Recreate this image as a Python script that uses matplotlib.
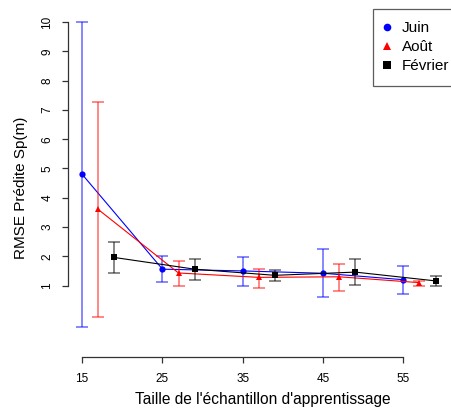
import numpy as np
import matplotlib
matplotlib.use("Agg")
import matplotlib.pyplot as plt
from matplotlib.lines import Line2D

plt.rcParams['font.family'] = ['Liberation Sans', 'DejaVu Sans']

# sample sizes, shifted per month like in the original figure
taille = [15, 25, 35, 45, 55]
decalage = {'Juin': 0, 'Août': 2, 'Février': 4}

# RMSE mean and error bar limits
juin_moy = [4.80, 1.56, 1.50, 1.42, 1.20]
juin_haut = [10.0, 2.02, 1.98, 2.24, 1.68]
juin_bas = [-0.43, 1.11, 1.00, 0.60, 0.71]

aout_moy = [3.60, 1.43, 1.28, 1.30, 1.10]
aout_haut = [7.26, 1.85, 1.57, 1.74, 1.16]
aout_bas = [-0.06, 0.97, 0.92, 0.80, 0.98]

fev_moy = [1.96, 1.56, 1.35, 1.46, 1.16]
fev_haut = [2.50, 1.92, 1.52, 1.90, 1.32]
fev_bas = [1.42, 1.20, 1.15, 1.03, 1.00]

series = [
    ('Juin', juin_moy, juin_haut, juin_bas, '#0000ff', 'o'),
    ('Août', aout_moy, aout_haut, aout_bas, '#ff0000', '^'),
    ('Février', fev_moy, fev_haut, fev_bas, '#000000', 's'),
]

fig = plt.figure(figsize=(4.51, 4.12), dpi=100)
ax = fig.add_axes([0.1508, 0.1335, 0.8462, 0.8413])

handles = []
for nom, moy, haut, bas, col, mk in series:
    x = np.array(taille) + decalage[nom]
    moy = np.array(moy)
    err = [moy - np.array(bas), np.array(haut) - moy]
    ax.errorbar(x, moy, yerr=err, fmt='none', ecolor=col, alpha=0.55,
                elinewidth=1.2, capsize=4, capthick=1.2)
    ax.plot(x, moy, color=col, lw=0.8, marker=mk, markersize=4.5,
            markeredgewidth=0)
    handles.append(Line2D([], [], color=col, marker=mk, ls='none',
                          markersize=5.5, markeredgewidth=0, label=nom))

ax.set_xlim(13.24, 60.76)
ax.set_ylim(-1.44, 10.4)
ax.set_xticks([15, 25, 35, 45, 55])
ax.set_yticks(range(1, 11))
for s in ['top', 'right']:
    ax.spines[s].set_visible(False)
ax.spines['left'].set_bounds(1, 10)
ax.spines['bottom'].set_bounds(15, 55)
for s in ['left', 'bottom']:
    ax.spines[s].set_color('#333333')
    ax.spines[s].set_linewidth(0.9)
ax.tick_params(axis='both', length=4.5, width=0.9, color='#333333', labelsize=8.5)
ax.tick_params(axis='y', pad=6)
ax.tick_params(axis='x', pad=7)
for lab in ax.get_yticklabels():
    lab.set_rotation(90)
    lab.set_va('center')

fig.text(0.582, 0.030, "Taille de l'échantillon d'apprentissage",
         ha='center', va='center', fontsize=11.2)
fig.text(0.047, 0.543, "RMSE Prédite Sp(m)", ha='center', va='center',
         rotation=90, fontsize=11)

# legend box sits in the top right corner and runs past the image edge
leg = fig.legend(handles=handles, loc='upper left',
                 bbox_to_anchor=(373 / 451, 1 - 9 / 412),
                 bbox_transform=fig.transFigure,
                 borderaxespad=0, fontsize=11, frameon=True, fancybox=False,
                 handlelength=0.27, handletextpad=0.8, labelspacing=0.33,
                 borderpad=0.8)
leg.get_frame().set_edgecolor('#333333')
leg.get_frame().set_linewidth(0.9)

fig.savefig('out.png', dpi=100)
